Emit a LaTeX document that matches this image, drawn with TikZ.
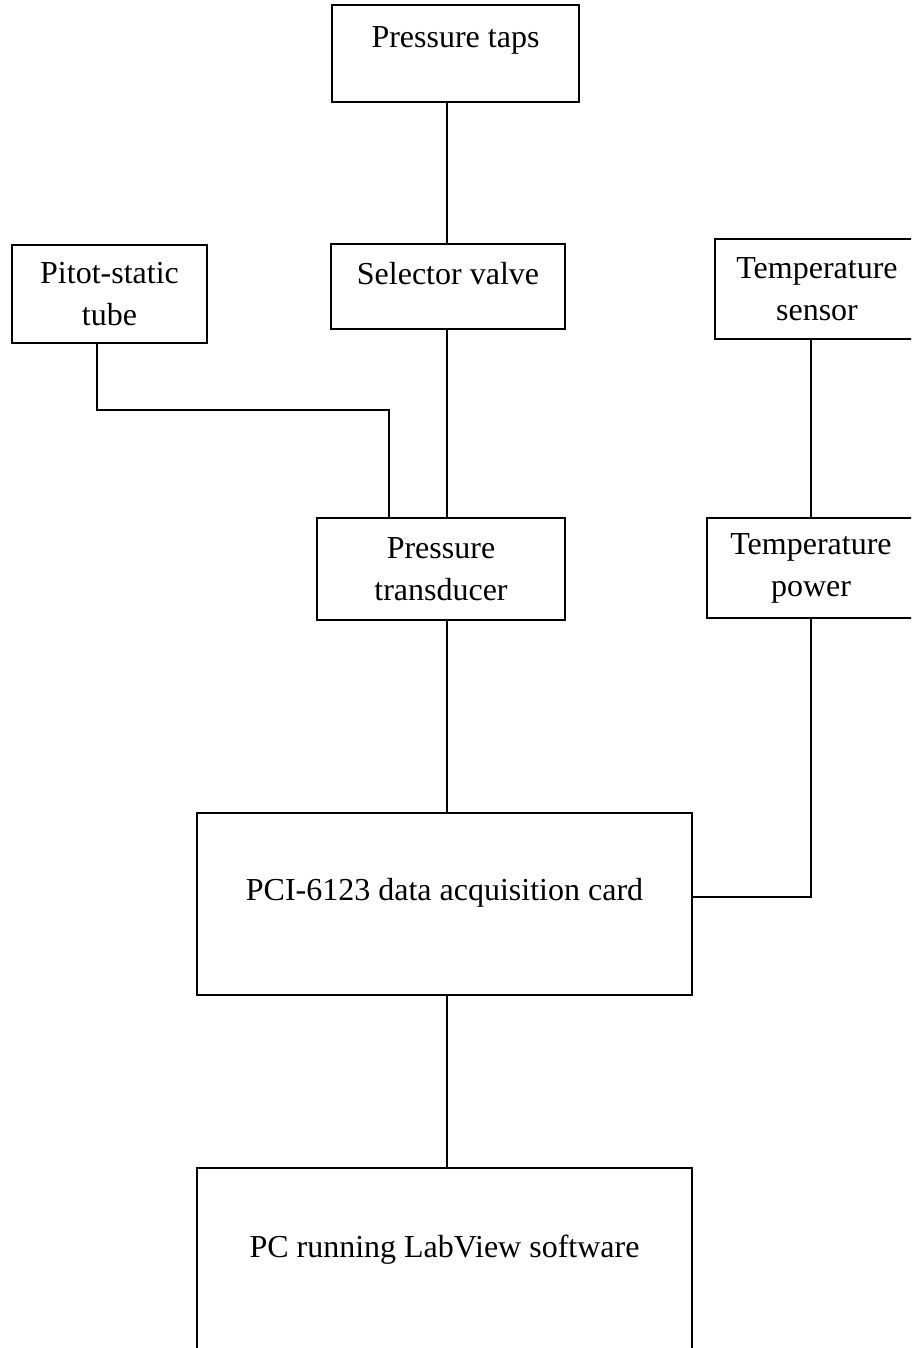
\documentclass[tikz,border=0pt]{standalone}
\usepackage{fontspec}
\setmainfont{Liberation Serif}
\usepackage{tikz}
\usetikzlibrary{positioning, calc}

\begin{document}
\begin{tikzpicture}[x=0.5pt, y=-0.5pt,
    blk/.style={draw, line width=1pt, align=center, inner sep=0pt},
    txt/.style={align=center, inner sep=0pt},
    wire/.style={line width=1pt}]
  \useasboundingbox (0,0) rectangle (911,1348);
  \clip (0,0) rectangle (911,1348);
  \fontsize{16}{21}\selectfont

  % boxes
  \node[blk, minimum width=123.5pt, minimum height=48.5pt] (taps) at (455.5,53.5) {};
  \node[txt] (tapsText) at ([yshift=6.5pt]taps.center) {Pressure taps};
  \node[blk, minimum width=117pt, minimum height=42.5pt] (valve) at (448,286.5) {};
  \node[txt] (valveText) at ([yshift=6.25pt]valve.center) {Selector valve};
  \node[blk, minimum width=97.5pt, minimum height=49pt] (pitot) at (109.5,294) {Pitot-static\\tube};
  \node[blk, minimum width=102pt, minimum height=50pt] (tsens) at (817,289) {Temperature\\sensor};
  \node[blk, minimum width=124pt, minimum height=51pt] (trans) at (441,569) {Pressure\\transducer};
  \node[blk, minimum width=104pt, minimum height=50pt] (tpow) at (811,568) {Temperature\\power};
  \node[blk, minimum width=247.5pt, minimum height=91pt] (daq) at (444.5,904) {};
  \node[txt] (daqText) at ([yshift=5.5pt]daq.center) {PCI-6123 data acquisition card};
  \node[blk, minimum width=247.5pt, minimum height=91pt] (pc) at (444.5,1259) {};
  \node[txt] (pcText) at ([yshift=4.5pt]pc.center) {PC running LabView software};

  % connections
  \coordinate (pitotbend) at (389,410);
  \draw[wire] ([xshift=-0.5pt]valve.north) -- ([xshift=-0.5pt]valve.north |- taps.south);
  \draw[wire] ([xshift=-0.5pt]valve.south) -- ([xshift=-0.5pt]valve.south |- trans.north);
  \draw[wire] ([xshift=-6.25pt]pitot.south) |- (pitotbend) -- (pitotbend |- trans.north);
  \draw[wire] (tpow.north) -- (tpow.north |- tsens.south);
  \draw[wire] ([xshift=3pt]trans.south) -- ([xshift=3pt]trans.south |- daq.north);
  \draw[wire] (tpow.south) |- ([yshift=3.5pt, xshift=-1pt]daq.east);
  \draw[wire] ([xshift=1.25pt]daq.south) -- ([xshift=1.25pt]pc.north);
\end{tikzpicture}
\end{document}
